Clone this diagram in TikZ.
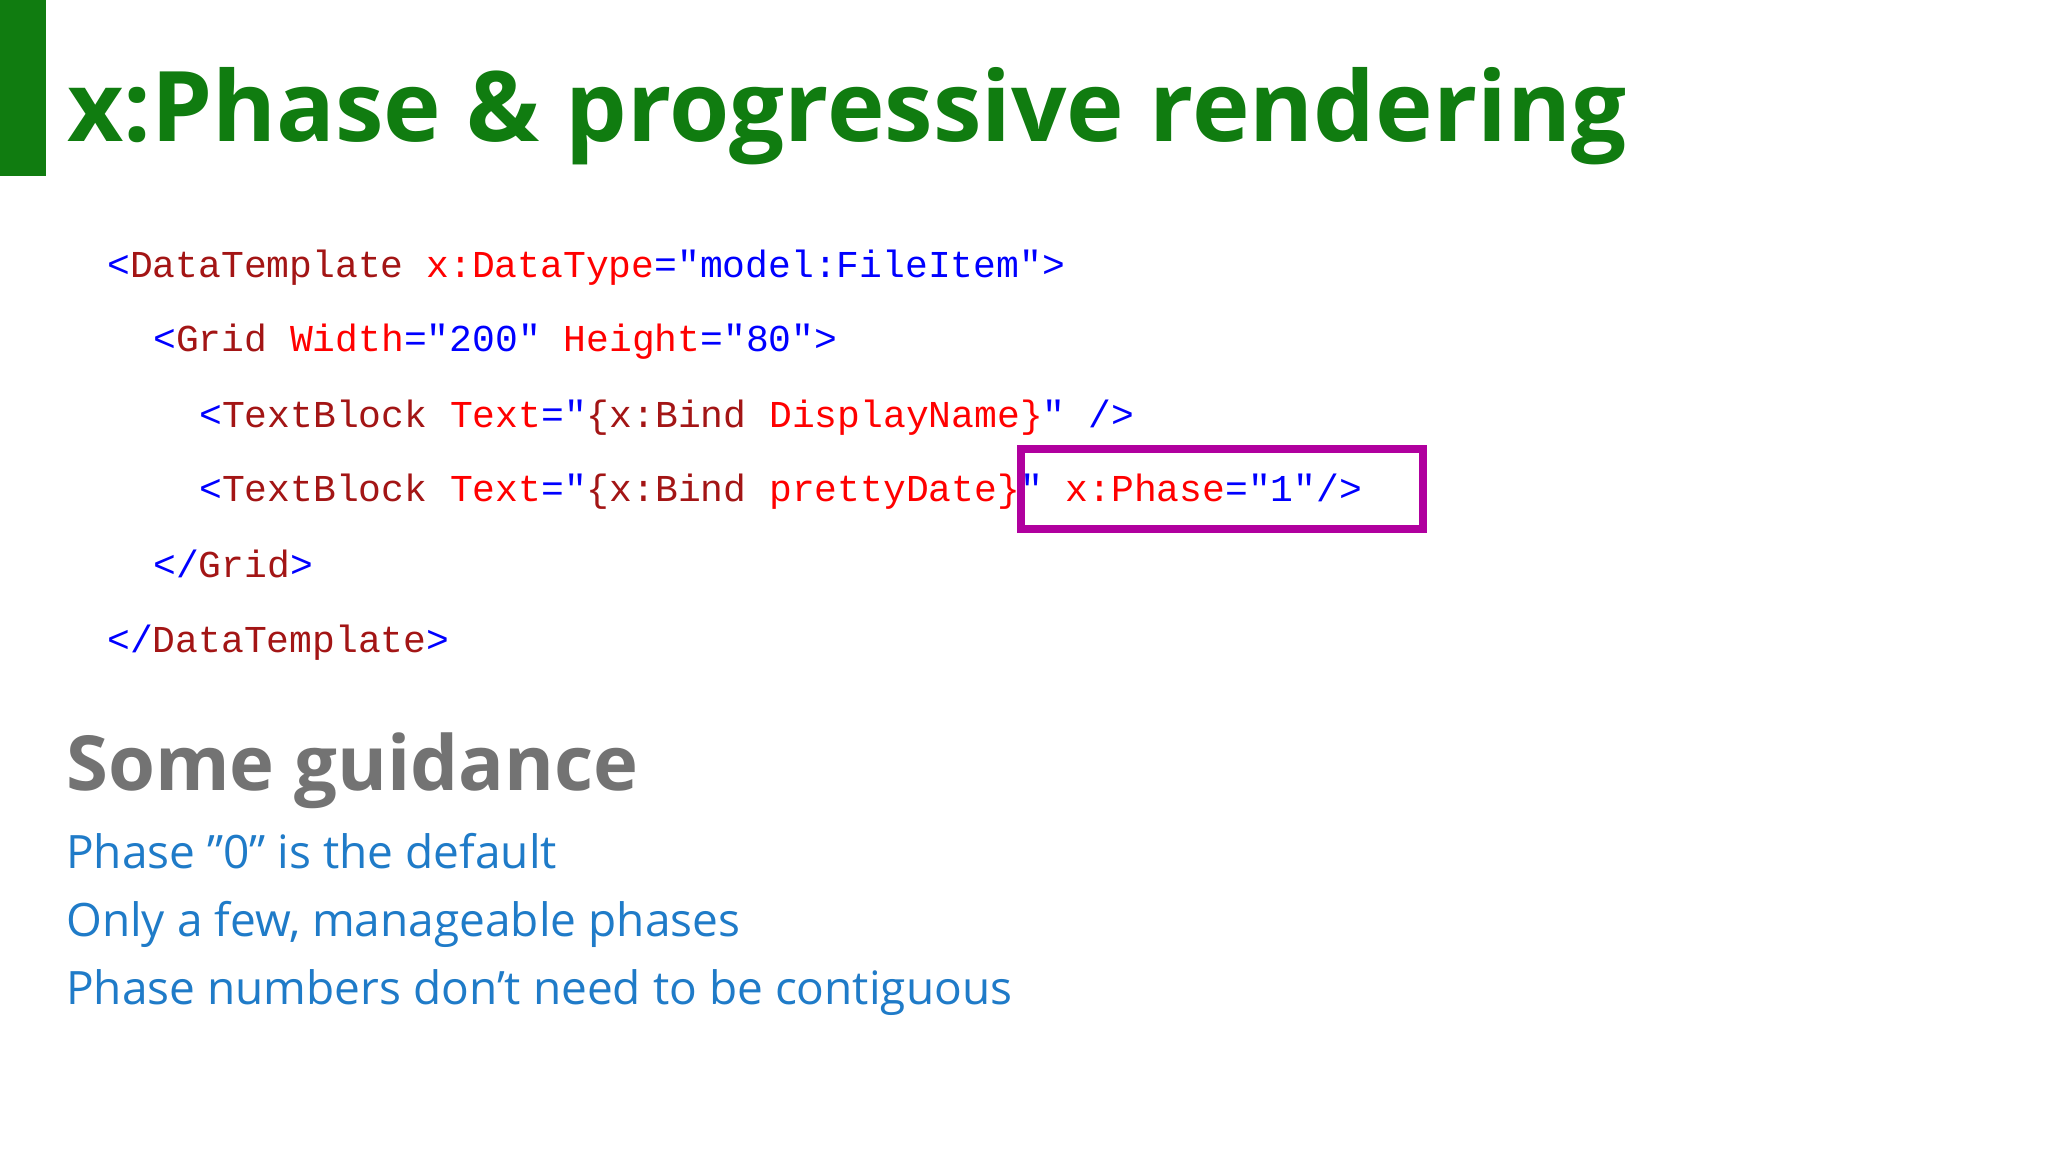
\documentclass[tikz,border=0pt]{standalone}
\usepackage{fontspec}
\setmainfont{Open Sans}
\newfontfamily\codefont{Liberation Mono}
\definecolor{ttl}{HTML}{107C10}
\definecolor{tg}{HTML}{A31515}
\definecolor{at}{HTML}{FF0000}
\definecolor{vl}{HTML}{0000FF}
\definecolor{gd}{HTML}{737373}
\definecolor{bl}{HTML}{1F7BC8}
\definecolor{mg}{HTML}{B0009E}
\newcommand\Bc[1]{\textcolor{vl}{#1}}
\newcommand\Tc[1]{\textcolor{tg}{#1}}
\newcommand\Ac[1]{\textcolor{at}{#1}}
\newcommand\dq{\symbol{34}}
\newcommand\sq{\symbol{39}}
\begin{document}
\begin{tikzpicture}[x=1pt,y=-1pt,
  code/.style={anchor=base west,inner sep=0pt,font=\codefont\fontsize{38}{38}\selectfont},
  bul/.style={anchor=base west,inner sep=0pt,text=bl,font=\fontsize{46}{46}\selectfont}]
\useasboundingbox[fill=white] (0,0) rectangle (2048,1152);
\fill[ttl] (0,0) rectangle (46,176);
\node[anchor=base west,inner sep=0pt,text=ttl,font=\bfseries\fontsize{97.5}{98}\selectfont] (title) at (67,141) {x:Phase \& progressive rendering};
\node[code] (l1) at (107,277) {\Bc{<}\Tc{DataTemplate} \Ac{x:DataType}\Bc{="model:FileItem">}};
\node[code] (l2) at (153,351) {\Bc{<}\Tc{Grid} \Ac{Width}\Bc{="200"} \Ac{Height}\Bc{="80">}};
\node[code] (l3) at (199,427) {\Bc{<}\Tc{TextBlock} \Ac{Text}\Bc{="}\Tc{\{x:Bind} \Ac{DisplayName\}}\Bc{" />}};
\node[code] (l4) at (199,501) {\Bc{<}\Tc{TextBlock} \Ac{Text}\Bc{="}\Tc{\{x:Bind} \Ac{prettyDate\}}\Bc{"} \Ac{x:Phase}\Bc{="1"/>}};
\node[code] (l5) at (153,577) {\Bc{</}\Tc{Grid}\Bc{>}};
\node[code] (l6) at (107,652) {\Bc{</}\Tc{DataTemplate}\Bc{>}};
\draw[mg,line width=8] (1021,449) rectangle (1423,529);
\node[anchor=base west,inner sep=0pt,text=gd,font=\bfseries\fontsize{76}{76}\selectfont] (sg) at (66,790) {Some guidance};
\node[bul] (b1) at (66,868) {Phase \dq0\dq{} is the default};
\node[bul] (b2) at (66,936) {Only a few, manageable phases};
\node[bul] (b3) at (66,1004) {Phase numbers don\sq{}t need to be contiguous};
\end{tikzpicture}
\end{document}
